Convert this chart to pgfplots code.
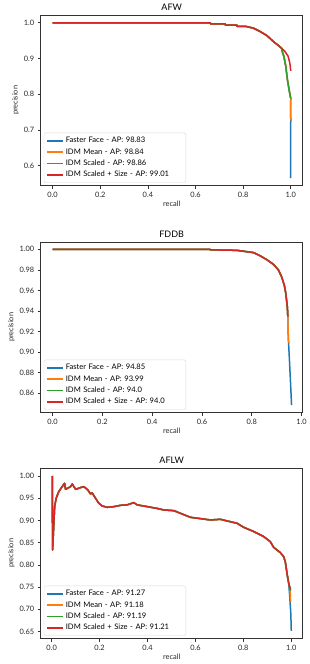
\documentclass[border=0pt]{standalone}
\usepackage{pgfplots}
\pgfplotsset{compat=1.18}
\usepackage{fontspec}
\setmainfont{Lato}

\definecolor{tabblue}{HTML}{1F77B4}
\definecolor{taborange}{HTML}{FF7F0E}
\definecolor{tabgreen}{HTML}{2CA02C}
\definecolor{tabred}{HTML}{D62728}
\definecolor{framegray}{HTML}{333333}

\pgfplotsset{
  prcurve/.style={
    scale only axis,
    width=262pt, height=170.7pt,
    axis line style={framegray, line width=0.7pt},
    tick style={framegray, line width=0.6pt},
    tick align=outside, major tick length=3pt,
    xtick pos=bottom, ytick pos=left,
    tick label style={font=\fontsize{7.4}{8}\selectfont, text=black!85},
    label style={font=\fontsize{7.4}{8}\selectfont, text=black!85},
    title style={font=\fontsize{9}{10}\selectfont, yshift=-5pt},
    xlabel={recall}, ylabel={precision},
    xlabel style={yshift=3pt}, ylabel style={yshift=-2pt},
    xtick={0,0.2,0.4,0.6,0.8,1.0},
    xticklabels={0.0,0.2,0.4,0.6,0.8,1.0},
    every axis plot/.append style={line width=1.5pt, line join=round},
    legend cell align=left,
    legend style={
      at={(0.012,0.016)}, anchor=south west,
      font=\fontsize{7.6}{8.6}\selectfont,
      draw=black!15, rounded corners=1.5pt,
      inner xsep=2pt, inner ysep=3.3pt,
      row sep=1.9pt,
      nodes={inner ysep=1.2pt, text height=5.5pt, text depth=1.5pt},
      /tikz/every even column/.append style={text width=116pt, align=left},
    },
    legend image code/.code={\draw[#1, line width=1.8pt] (0pt,0pt) -- (16pt,0pt);},
  },
}

\begin{document}
\begin{tikzpicture}
\path[use as bounding box] (0pt,0pt) rectangle (309pt,-664pt);

% ---------------- AFW ----------------
\begin{axis}[prcurve,
  at={(40.7pt,-15pt)}, anchor=north west,
  title={AFW},
  xmin=-0.05, xmax=1.05, ymin=0.5435, ymax=1.0218,
  ytick={0.6,0.7,0.8,0.9,1.0},
  yticklabels={0.6,0.7,0.8,0.9,1.0},
]
\addplot[tabblue] coordinates {
 (0,1.0) (0.6625,1.0) (0.6625,0.997) (0.725,0.997) (0.725,0.9935) (0.774,0.9935)
 (0.774,0.99) (0.81,0.99) (0.843,0.985) (0.87,0.976) (0.9,0.964) (0.926,0.948)
 (0.945,0.938) (0.961,0.929) (0.966,0.915) (0.971,0.906) (0.979,0.878)
 (0.986,0.84) (0.993,0.812) (0.999,0.79) (1.0,0.789) (0.999,0.76) (1.0,0.728)
 (0.999,0.70) (0.999,0.565)};
\addlegendentry{Faster Face - AP: 98.83}
\addplot[taborange] coordinates {
 (0,1.0) (0.6625,1.0) (0.6625,0.997) (0.725,0.997) (0.725,0.9935) (0.774,0.9935)
 (0.774,0.99) (0.81,0.99) (0.843,0.985) (0.87,0.976) (0.9,0.964) (0.926,0.948)
 (0.945,0.938) (0.961,0.929) (0.966,0.915) (0.971,0.906) (0.979,0.878)
 (0.986,0.84) (0.993,0.812) (0.999,0.79) (1.0,0.789) (0.999,0.76) (0.9995,0.735)
 (1.002,0.726)};
\addlegendentry{IDM Mean - AP: 98.84}
\addplot[tabgreen] coordinates {
 (0,1.0) (0.6625,1.0) (0.6625,0.997) (0.725,0.997) (0.725,0.9935) (0.774,0.9935)
 (0.774,0.99) (0.81,0.99) (0.843,0.985) (0.87,0.976) (0.9,0.964) (0.926,0.948)
 (0.945,0.938) (0.961,0.929) (0.966,0.915) (0.971,0.906) (0.979,0.878)
 (0.986,0.84) (0.993,0.812) (0.999,0.79) (1.002,0.789)};
\addlegendentry{IDM Scaled - AP: 98.86}
\addplot[tabred] coordinates {
 (0,1.0) (0.6625,1.0) (0.6625,0.997) (0.725,0.997) (0.725,0.9935) (0.774,0.9935)
 (0.774,0.99) (0.81,0.99) (0.843,0.985) (0.87,0.976) (0.9,0.964) (0.926,0.948)
 (0.945,0.938) (0.961,0.929) (0.975,0.92) (0.989,0.906) (0.996,0.887)
 (1.0,0.865)};
\addlegendentry{IDM Scaled + Size - AP: 99.01}
\end{axis}

% ---------------- FDDB ----------------
\begin{axis}[prcurve,
  at={(40.7pt,-242pt)}, anchor=north west,
  title={FDDB},
  xmin=-0.0478, xmax=1.0048, ymin=0.8411, ymax=1.0071,
  ytick={0.86,0.88,0.90,0.92,0.94,0.96,0.98,1.00},
  yticklabels={0.86,0.88,0.90,0.92,0.94,0.96,0.98,1.00},
]
\addplot[tabblue] coordinates {
 (0,1.0) (0.633,1.0) (0.633,0.9995) (0.74,0.999) (0.807,0.9968) (0.833,0.9938)
 (0.86,0.990) (0.887,0.9854) (0.907,0.98) (0.92,0.9734) (0.931,0.965)
 (0.937,0.957) (0.943,0.944) (0.945,0.935) (0.946,0.922) (0.948,0.909)
 (0.952,0.89) (0.956,0.87) (0.96,0.8485)};
\addlegendentry{Faster Face - AP: 94.85}
\addplot[taborange] coordinates {
 (0,1.0) (0.633,1.0) (0.633,0.9995) (0.74,0.999) (0.807,0.9968) (0.833,0.9938)
 (0.86,0.990) (0.887,0.9854) (0.907,0.98) (0.92,0.9734) (0.931,0.965)
 (0.937,0.957) (0.943,0.944) (0.945,0.935) (0.946,0.922) (0.948,0.909)};
\addlegendentry{IDM Mean - AP: 93.99}
\addplot[tabgreen] coordinates {
 (0,1.0) (0.633,1.0) (0.633,0.9995) (0.74,0.999) (0.807,0.9968) (0.833,0.9938)
 (0.86,0.990) (0.887,0.9854) (0.907,0.98) (0.92,0.9734) (0.931,0.965)
 (0.937,0.957) (0.943,0.944) (0.945,0.935)};
\addlegendentry{IDM Scaled - AP: 94.0}
\addplot[tabred] coordinates {
 (0,1.0) (0.633,1.0) (0.633,0.9995) (0.74,0.999) (0.807,0.9968) (0.833,0.9938)
 (0.86,0.990) (0.887,0.9854) (0.907,0.98) (0.92,0.9734) (0.931,0.965)
 (0.937,0.957) (0.943,0.944) (0.945,0.935) (0.947,0.935)};
\addlegendentry{IDM Scaled + Size - AP: 94.0}
\end{axis}

% ---------------- AFLW ----------------
% shared part of the four curves (they only separate at the very end)
\pgfplotstableread{
x y
0.003 1.0
0.004 0.8336
0.0125 0.931
0.019 0.95
0.03 0.965
0.044 0.976
0.054 0.9835
0.058 0.97
0.079 0.976
0.086 0.982
0.1 0.97
0.121 0.974
0.135 0.976
0.151 0.9685
0.1625 0.9595
0.169 0.962
0.183 0.95
0.197 0.9385
0.211 0.9325
0.232 0.9295
0.26 0.931
0.2875 0.934
0.315 0.935
0.343 0.94
0.357 0.935
0.399 0.931
0.44 0.927
0.468 0.9235
0.51 0.922
0.5375 0.916
0.579 0.907
0.621 0.904
0.6625 0.901
0.704 0.9025
0.746 0.897
0.774 0.8935
0.801 0.8846
0.843 0.875
0.885 0.8636
0.9125 0.852
0.926 0.8396
0.954 0.8276
0.968 0.8186
0.975 0.807
0.982 0.781
0.989 0.759
}\aflwcommon

\begin{axis}[prcurve,
  at={(40.7pt,-468pt)}, anchor=north west,
  title={AFLW},
  xmin=-0.0456, xmax=1.0476, ymin=0.6336, ymax=1.018,
  ytick={0.65,0.70,0.75,0.80,0.85,0.90,0.95,1.00},
  yticklabels={0.65,0.70,0.75,0.80,0.85,0.90,0.95,1.00},
]
\addplot[tabblue] table[x=x,y=y] {\aflwcommon}
  -- (axis cs:0.993,0.7325) -- (axis cs:0.998,0.69) -- (axis cs:1.0,0.651);
\addlegendentry{Faster Face - AP: 91.27}
\addplot[taborange] table[x=x,y=y] {\aflwcommon}
  -- (axis cs:0.995,0.745) -- (axis cs:0.996,0.73) -- (axis cs:0.997,0.717);
\addlegendentry{IDM Mean - AP: 91.18}
\addplot[tabgreen] table[x=x,y=y] {\aflwcommon}
  -- (axis cs:0.996,0.745) -- (axis cs:0.998,0.742);
\addlegendentry{IDM Scaled - AP: 91.19}
\addplot[tabred] table[x=x,y=y] {\aflwcommon}
  -- (axis cs:0.996,0.745);
\addlegendentry{IDM Scaled + Size - AP: 91.21}
\end{axis}
\end{tikzpicture}
\end{document}
